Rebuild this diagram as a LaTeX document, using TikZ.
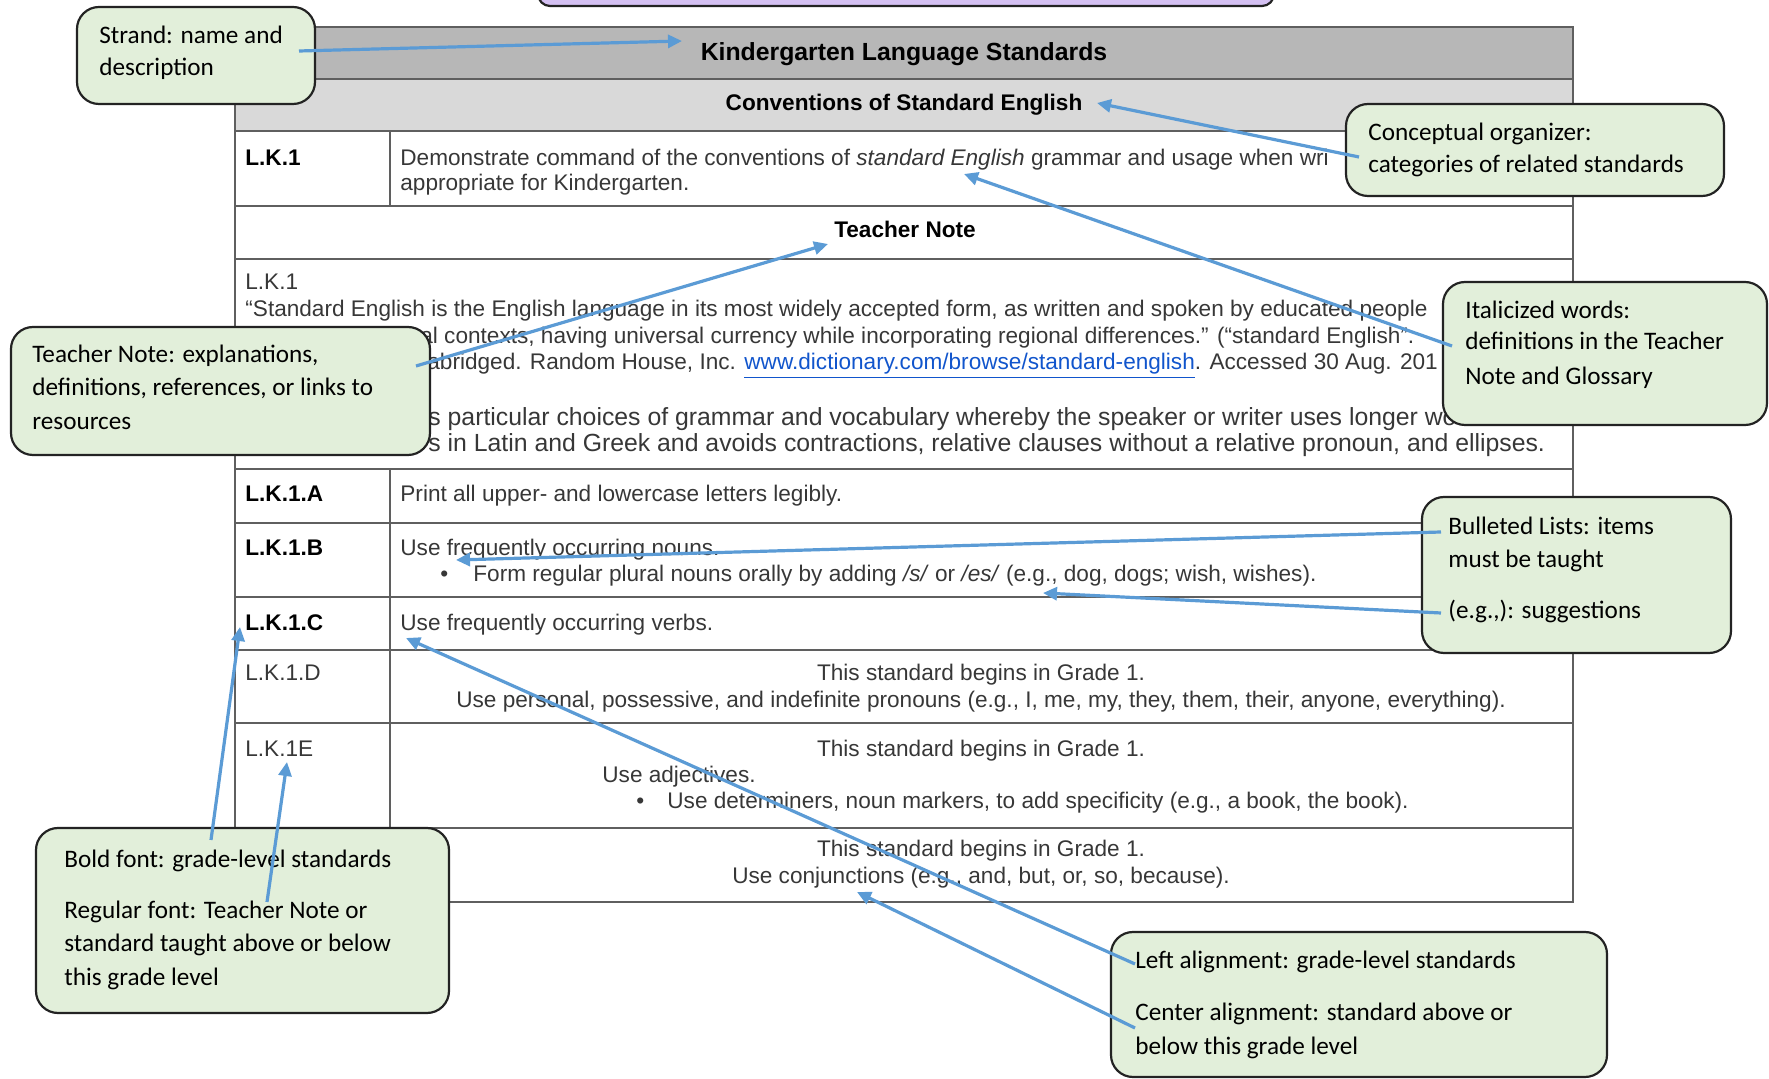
\documentclass[tikz,border=0pt]{standalone}
\usepackage{fontspec}
\setmainfont{Liberation Sans}
\newfontfamily\calfont{Carlito}
\usetikzlibrary{arrows.meta}
\definecolor{callfill}{RGB}{226,239,218}
\definecolor{callborder}{RGB}{35,35,35}
\definecolor{arrowblue}{RGB}{91,155,213}
\definecolor{hdrdark}{RGB}{183,183,183}
\definecolor{hdrlight}{RGB}{217,217,217}
\definecolor{gridgray}{RGB}{95,95,95}
\definecolor{tabgray}{RGB}{55,55,55}
\definecolor{linkblue}{RGB}{17,85,204}
\definecolor{lavender}{RGB}{212,192,242}
\tikzset{
  tabtxt/.style={anchor=base west, inner sep=0pt, text=tabgray, font=\fontsize{11.3}{13.5}\selectfont},
  tabbig/.style={tabtxt, font=\fontsize{12.4}{14.5}\selectfont},
  tabctr/.style={tabtxt, anchor=base},
  tabbold/.style={tabtxt, text=black, font=\bfseries\fontsize{11.3}{13.5}\selectfont},
  calltxt/.style={anchor=base west, inner sep=0pt, text=black, font=\calfont\fontsize{12.6}{16}\selectfont},
  callout/.style={draw=callborder, line width=1.1pt, fill=callfill, rounded corners=11pt, inner sep=0pt},
  pointer/.style={draw=arrowblue, line width=1.6pt, -{Triangle[length=7pt,width=6.5pt]}},
  gridln/.style={draw=gridgray, line width=1pt},
}
\begin{document}
\begin{tikzpicture}[x=0.5pt,y=-0.5pt]
\useasboundingbox (0,0) rectangle (1769,1079);
% top lavender box (cropped)
\node[draw=callborder, line width=1.1pt, fill=lavender, rounded corners=6pt, minimum width=368pt, minimum height=20pt, inner sep=0pt] (topbox) at (906,-14) {};
% table fills
\fill[hdrdark] (235,27) rectangle (1573,79);
\fill[hdrlight] (235,79) rectangle (1573,131);
% table grid
\draw[gridln] (235,27) rectangle (1573,902);
\foreach \yy in {79,131,206,259,469,523,597,650,723,828}
  \draw[gridln] (235,\yy) -- (1573,\yy);
\draw[gridln] (390,131) -- (390,206);
\draw[gridln] (390,469) -- (390,902);
% headers
\node[tabbold, anchor=base, font=\bfseries\fontsize{12.4}{14}\selectfont] (title) at (904,61) {Kindergarten Language Standards};
\node[tabbold, anchor=base] (conv) at (904,111) {Conventions of Standard English};
% L.K.1 row
\node[tabbold] (lk1) at (245,166) {L.K.1};
\node[tabtxt] (lk1a) at (400,166) {Demonstrate command of the conventions of \textit{standard English} grammar and usage when wri};
\node[tabtxt] (lk1b) at (400,191) {appropriate for Kindergarten.};
% Teacher note
\node[tabbold, anchor=base] (tnhead) at (905,238) {Teacher Note};
\node[tabtxt] (tn0) at (245,290) {L.K.1};
\node[tabtxt] (tn1) at (245,317) {“Standard English is the English language in its most widely accepted form, as written and spoken by educated people};
\node[tabtxt] (tn2) at (420,344) {al contexts, having universal currency while incorporating regional differences.” (“standard English”.};
\node[tabtxt] (tn3) at (427,370) {abridged. Random House, Inc. \textcolor{linkblue}{\underline{www.dictionary.com/browse/standard-english}}. Accessed 30 Aug. 201};
\node[tabbig] (tn4) at (428,426) {s particular choices of grammar and vocabulary whereby the speaker or writer uses longer wo};
\node[tabbig] (tn5) at (428,452) {s in Latin and Greek and avoids contractions, relative clauses without a relative pronoun, and ellipses.};
% L.K.1.A
\node[tabbold] (lka) at (245,502) {L.K.1.A};
\node[tabtxt] (lkat) at (400,502) {Print all upper- and lowercase letters legibly.};
% L.K.1.B
\node[tabbold] (lkb) at (245,556) {L.K.1.B};
\node[tabtxt] (lkbt) at (400,556) {Use frequently occurring nouns.};
\node[tabtxt] (lkbbul) at (440,582) {•};
\node[tabtxt] (lkbt2) at (473,582) {Form regular plural nouns orally by adding \textit{/s/} or \textit{/es/} (e.g., dog, dogs; wish, wishes).};
% L.K.1.C
\node[tabbold] (lkc) at (245,631) {L.K.1.C};
\node[tabtxt] (lkct) at (400,631) {Use frequently occurring verbs.};
% L.K.1.D
\node[tabtxt] (lkd) at (245,681) {L.K.1.D};
\node[tabctr] (lkdt1) at (981,681) {This standard begins in Grade 1.};
\node[tabctr] (lkdt2) at (981,708) {Use personal, possessive, and indefinite pronouns (e.g., I, me, my, they, them, their, anyone, everything).};
% L.K.1E
\node[tabtxt] (lke) at (245,757) {L.K.1E};
\node[tabctr] (lket1) at (981,757) {This standard begins in Grade 1.};
\node[tabtxt] (lket2) at (602,783) {Use adjectives.};
\node[tabtxt] (lkebul) at (636,809) {•};
\node[tabtxt] (lket3) at (667,809) {Use determiners, noun markers, to add specificity (e.g., a book, the book).};
% last row
\node[tabctr] (lkft1) at (981,857) {This standard begins in Grade 1.};
\node[tabctr] (lkft2) at (981,884) {Use conjunctions (e.g., and, but, or, so, because).};

% callouts
\node[callout, minimum width=119pt, minimum height=48.5pt] (strand) at (196,55.5) {};
\node[calltxt] (strand1) at (99,44) {Strand: name and};
\node[calltxt] (strand2) at (99,76) {description};

\node[callout, minimum width=189pt, minimum height=46pt] (concept) at (1535,150) {};
\node[calltxt] (concept1) at (1368,141) {Conceptual organizer:};
\node[calltxt] (concept2) at (1368,173) {categories of related standards};

\node[callout, minimum width=209.5pt, minimum height=64pt] (tnote) at (220.5,391) {};
\node[calltxt] (tnote1) at (32,363) {Teacher Note: explanations,};
\node[calltxt] (tnote2) at (32,396) {definitions, references, or links to};
\node[calltxt] (tnote3) at (32,430) {resources};

\node[callout, minimum width=162pt, minimum height=71.5pt] (italic) at (1605,353.5) {};
\node[calltxt] (italic1) at (1465,319) {Italicized words:};
\node[calltxt] (italic2) at (1465,350) {definitions in the Teacher};
\node[calltxt] (italic3) at (1465,385) {Note and Glossary};

\node[callout, minimum width=154.5pt, minimum height=78pt] (bullet) at (1576.5,575) {};
\node[calltxt] (bullet1) at (1448,535) {Bulleted Lists: items};
\node[calltxt] (bullet2) at (1448,568) {must be taught};
\node[calltxt] (bullet3) at (1448,619) {(e.g.,): suggestions};

\node[callout, minimum width=206.5pt, minimum height=92.5pt] (fontbox) at (242.5,920.5) {};
\node[calltxt] (font1) at (64,868) {Bold font: grade-level standards};
\node[calltxt] (font2) at (64,919) {Regular font: Teacher Note or};
\node[calltxt] (font3) at (64,952) {standard taught above or below};
\node[calltxt] (font4) at (64,986) {this grade level};

\node[callout, minimum width=248pt, minimum height=72.5pt] (alignbox) at (1359,1004.5) {};
\node[calltxt] (align1) at (1135,969) {Left alignment: grade-level standards};
\node[calltxt] (align2) at (1135,1021) {Center alignment: standard above or};
\node[calltxt] (align3) at (1135,1054) {below this grade level};

% pointer end points
\coordinate (s1) at (299,51);    \coordinate (e1) at (682,41);
\coordinate (s2) at (1359,157);  \coordinate (e2) at (1097,103);
\coordinate (s3) at (1452,346);  \coordinate (e3) at (964,174);
\coordinate (s4) at (416,366);   \coordinate (e4) at (828,244);
\coordinate (s5) at (1441,532);  \coordinate (e5) at (456,560);
\coordinate (s6) at (1441,613);  \coordinate (e6) at (1043,593);
\coordinate (s7) at (211,840);   \coordinate (e7) at (240,627);
\coordinate (s8) at (267,902);   \coordinate (e8) at (287,762);
\coordinate (s9) at (1135,964);  \coordinate (e9) at (406,638);
\coordinate (s10) at (1135,1028); \coordinate (e10) at (857,892);
\foreach \k in {1,...,10}
  \draw[pointer] (s\k) -- (e\k);
\end{tikzpicture}
\end{document}
